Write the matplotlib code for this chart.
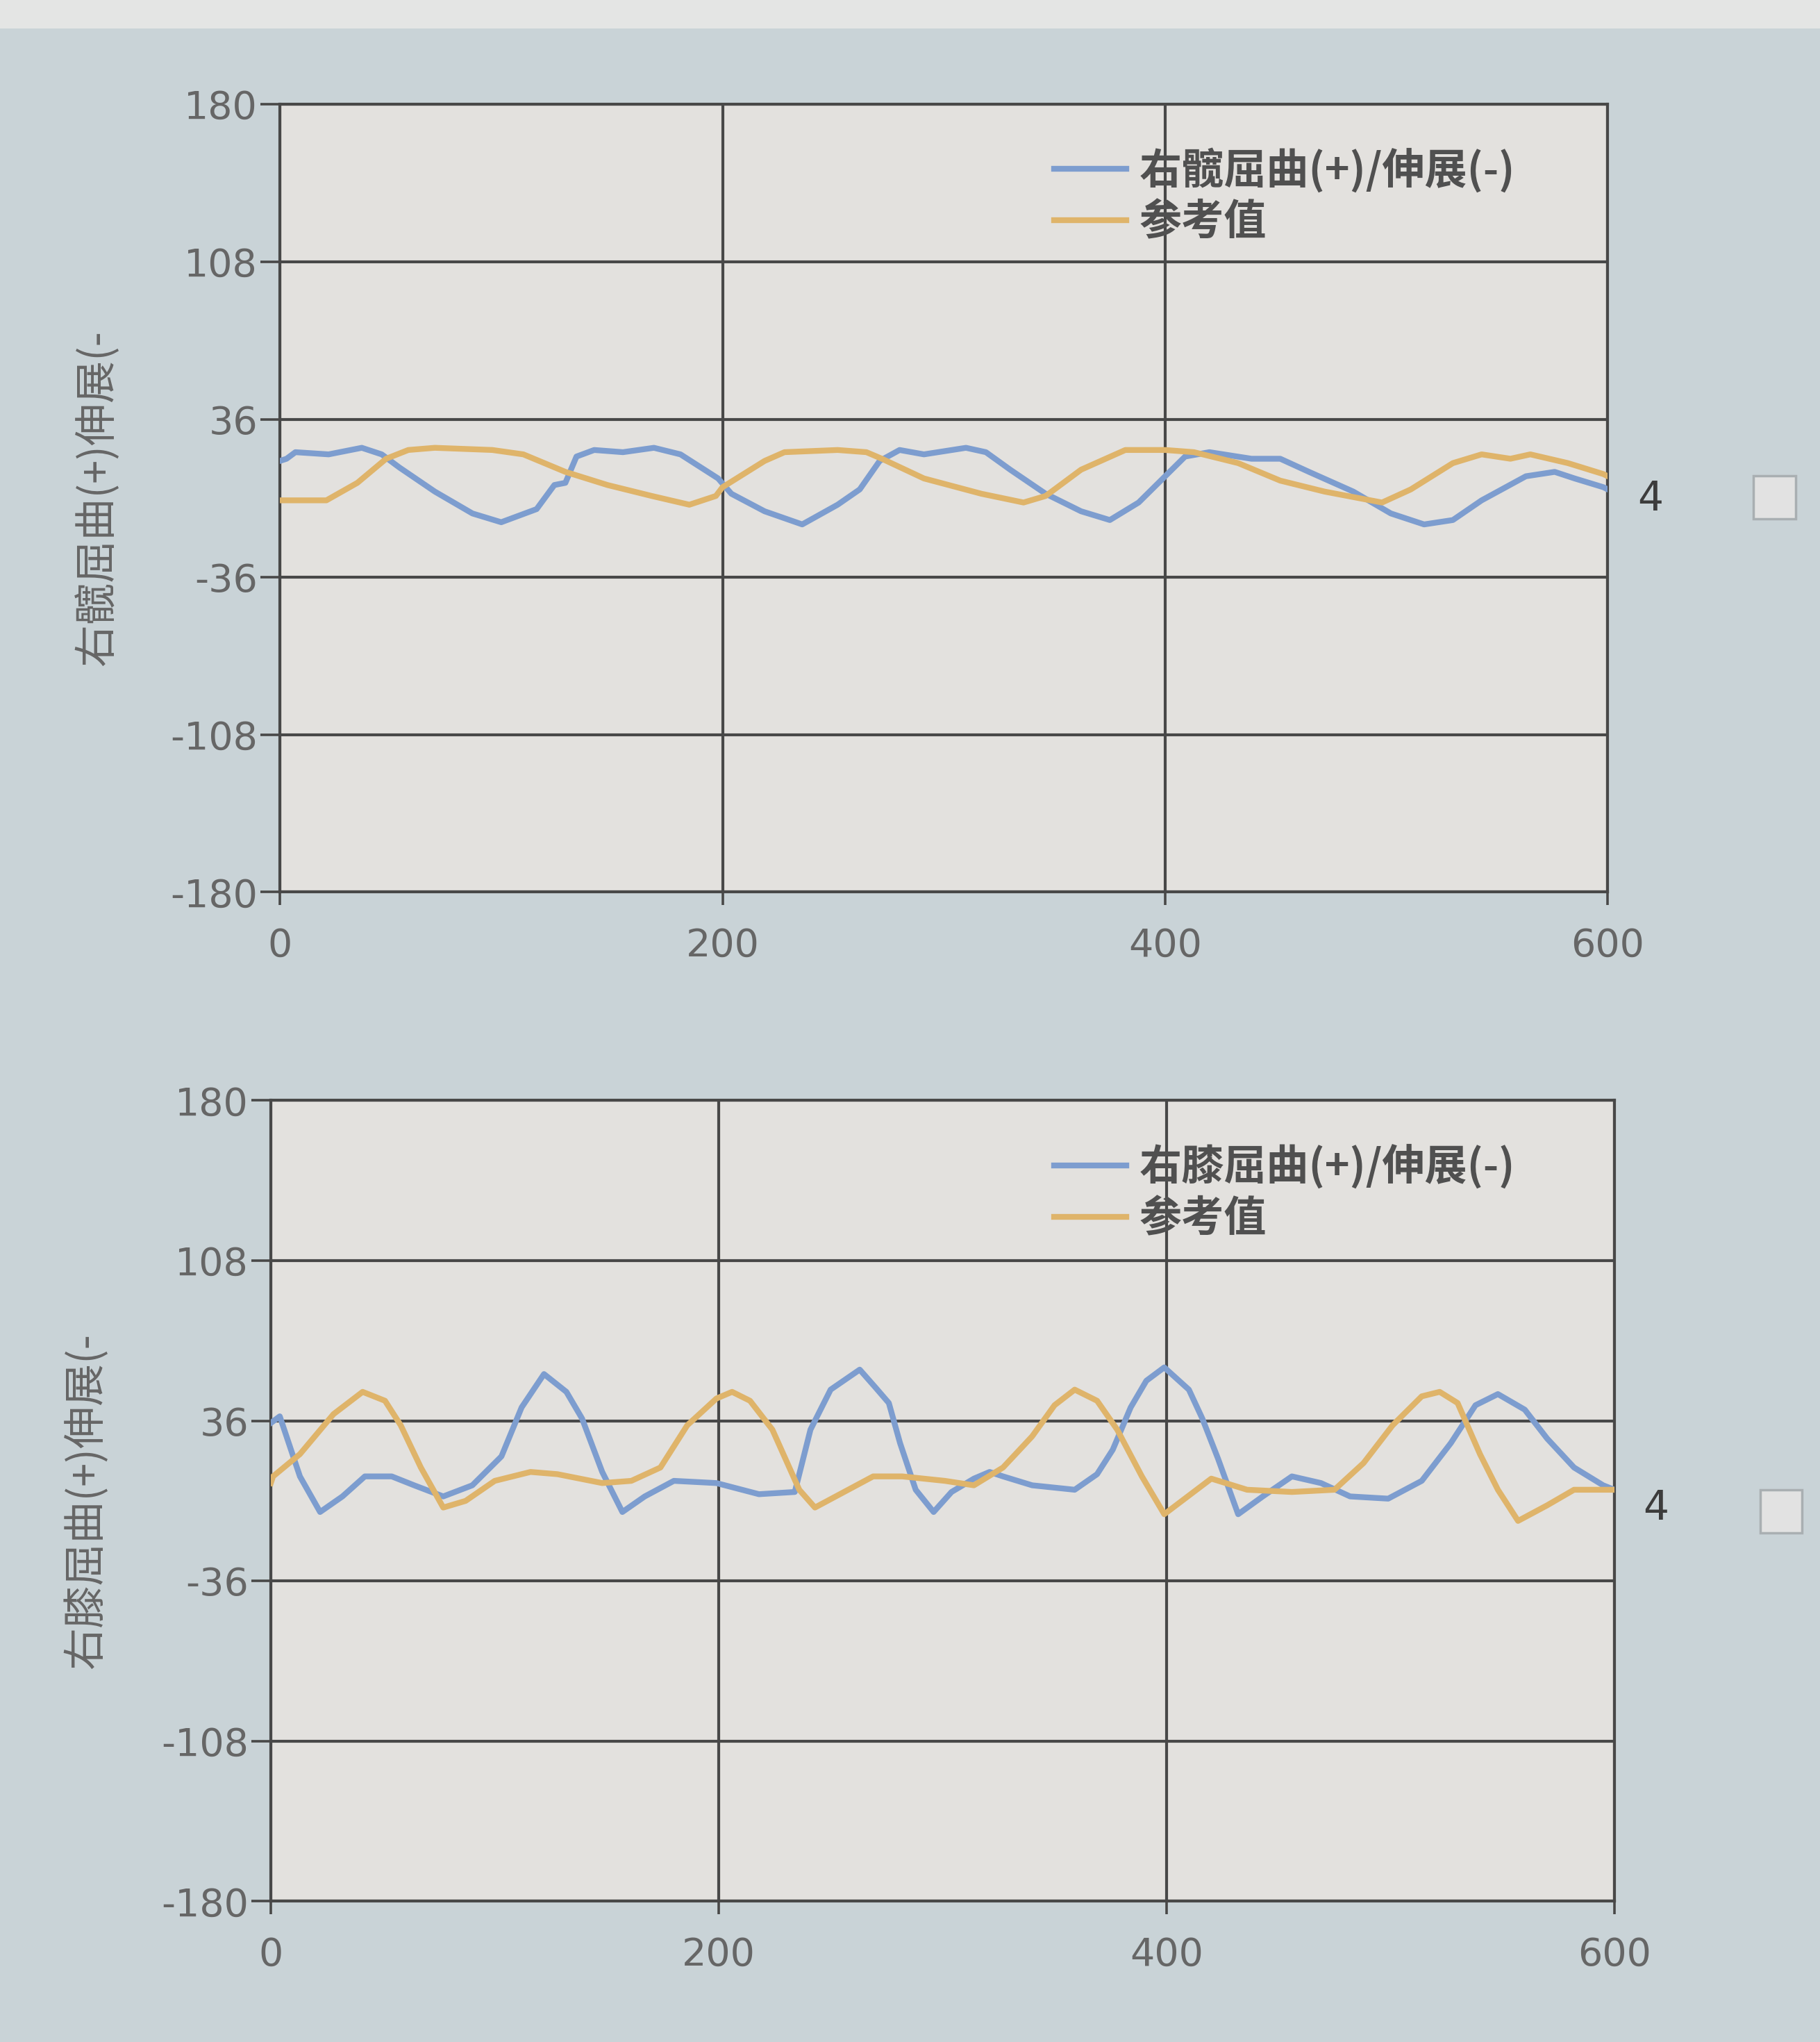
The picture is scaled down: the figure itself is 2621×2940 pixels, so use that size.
import matplotlib
matplotlib.use("Agg")
import matplotlib.pyplot as plt
from matplotlib.patches import Rectangle

plt.rcParams["font.family"] = ["Noto Sans CJK SC", "DejaVu Sans"]
plt.rcParams["axes.unicode_minus"] = False

hip_x = [0, 3, 7, 22, 37, 46, 54, 70, 87, 100, 116, 124, 129, 134, 142, 155, 169, 181,
         198, 204, 219, 236, 252, 262, 271, 280, 291, 310, 319, 330, 346, 362, 375, 388,
         398, 403, 409, 420, 439, 452, 465, 485, 502, 517, 530, 543, 563, 576, 585, 598, 600]
hip_y = [17, 18, 21, 20, 23, 20, 14, 3, -7, -11, -5, 6, 7, 19, 22, 21, 23, 20,
         9, 2, -6, -12, -3, 4, 17, 22, 20, 23, 21, 13, 2, -6, -10, -2,
         8, 13, 19, 21, 18, 18, 12, 3, -7, -12, -10, -1, 10, 12, 9, 5, 4]

hip_ref_x = [0, 3, 21, 35, 48, 58, 70, 96, 110, 129, 148, 168, 185, 197, 200, 219, 228,
             252, 265, 272, 291, 317, 336, 346, 362, 382, 400, 413, 433, 452, 472, 498,
             511, 530, 543, 556, 565, 582, 598, 600]
hip_ref_y = [-1, -1, -1, 7, 18, 22, 23, 22, 20, 12, 6, 1, -3, 1, 5, 17, 21,
             22, 21, 18, 9, 2, -2, 1, 13, 22, 22, 21, 16, 8, 3, -2,
             4, 16, 20, 18, 20, 16, 11, 10]

knee_x = [0, 4, 8, 13, 22, 32, 42, 54, 64, 77, 90, 103, 112, 122, 132, 139, 148, 157,
          167, 180, 199, 218, 234, 241, 250, 263, 270, 276, 281, 288, 296, 304, 314, 321,
          327, 340, 359, 369, 376, 384, 391, 399, 410, 416, 423, 432, 443, 456, 469, 482,
          499, 514, 527, 538, 548, 560, 570, 582, 595, 600]
knee_y = [35, 38, 26, 11, -5, 2, 11, 11, 7, 2, 7, 20, 42, 57, 49, 37, 13, -5,
          2, 9, 8, 3, 4, 32, 50, 59, 51, 44, 26, 5, -5, 4, 10, 13,
          11, 7, 5, 12, 23, 42, 54, 60, 50, 37, 19, -6, 2, 11, 8, 2,
          1, 9, 26, 43, 48, 41, 28, 15, 7, 5]

knee_ref_x = [0, 1, 13, 28, 41, 51, 58, 67, 77, 87, 100, 116, 128, 148, 161, 174, 186,
              199, 206, 214, 224, 236, 243, 256, 269, 282, 301, 314, 327, 340, 350, 359,
              369, 378, 389, 399, 420, 436, 456, 475, 488, 501, 514, 522, 530, 540, 548,
              557, 570, 582, 595, 600]
knee_ref_y = [8, 11, 21, 39, 49, 45, 34, 15, -3, 0, 9, 13, 12, 8, 9, 15, 34,
              46, 49, 45, 32, 5, -3, 4, 11, 11, 9, 7, 15, 29, 43, 50,
              45, 32, 11, -6, 10, 5, 4, 5, 17, 34, 47, 49, 44, 21, 5,
              -9, -2, 5, 5, 5]

y_ticks = [180, 108, 36, -36, -108, -180]
x_ticks = [0, 200, 400, 600]

BLUE = "#7d9dcf"
ORANGE = "#dfb46a"
GRID = "#484848"

fig = plt.figure(figsize=(26.21, 29.40), dpi=100, facecolor="#c9d3d7")
fig.patches.append(Rectangle((0, 0.986), 1, 0.014, transform=fig.transFigure,
                             facecolor="#e4e5e4", edgecolor="none", zorder=0))

panels = [
    dict(rect=[0.1538, 0.5631, 0.7296, 0.3859], x=hip_x, y=hip_y, rx=hip_ref_x, ry=hip_ref_y,
         name="右髋屈曲(+)/伸展(-)", ylabel="右髋屈曲(+)伸展(-", four=(0.907, 0.7557),
         box=(0.9635, 0.746)),
    dict(rect=[0.1488, 0.0689, 0.7382, 0.3922], x=knee_x, y=knee_y, rx=knee_ref_x, ry=knee_ref_y,
         name="右膝屈曲(+)/伸展(-)", ylabel="右膝屈曲(+)伸展(-", four=(0.910, 0.2615),
         box=(0.967, 0.2494)),
]

for p in panels:
    ax = fig.add_axes(p["rect"])
    ax.set_facecolor("#e3e1de")
    ax.plot(p["x"], p["y"], color=BLUE, lw=6, label=p["name"], zorder=3)
    ax.plot(p["rx"], p["ry"], color=ORANGE, lw=6, label="参考值", zorder=3)

    ax.set_xlim(0, 600)
    ax.set_ylim(-180, 180)
    ax.set_xticks(x_ticks)
    ax.set_yticks(y_ticks)
    ax.set_xticklabels([str(v) for v in x_ticks])
    ax.set_yticklabels([str(v) for v in y_ticks])
    ax.grid(True, color=GRID, lw=3, zorder=1)
    for s in ax.spines.values():
        s.set_color(GRID)
        s.set_linewidth(3)

    ax.tick_params(axis="y", length=20, width=2.6, color=GRID, pad=3,
                   labelsize=40, labelcolor="#666666")
    ax.tick_params(axis="x", length=14, width=2.6, color=GRID, pad=22,
                   labelsize=40, labelcolor="#666666")
    for lab in ax.get_xticklabels() + ax.get_yticklabels():
        lab.set_family("DejaVu Sans")

    ax.set_ylabel(p["ylabel"], fontsize=44, color="#666666", fontweight="medium")
    ax.yaxis.set_label_coords(-0.121, 0.5)

    leg = ax.legend(loc="upper left", bbox_to_anchor=(0.583, 0.945), frameon=False,
                    prop=dict(size=44, weight="bold"), handlelength=1.7,
                    handletextpad=0.3, labelspacing=0.2, borderpad=0, borderaxespad=0)
    for t in leg.get_texts():
        t.set_color("#505050")
    for h in leg.get_lines():
        h.set_linewidth(6)

    fig.text(p["four"][0], p["four"][1], "4", fontsize=42, color="#3c3c3c",
             ha="center", va="center", family="DejaVu Sans")
    fig.patches.append(Rectangle(p["box"], 0.023, 0.021, transform=fig.transFigure,
                                 facecolor="#e2e2e2", edgecolor="#a9afb2", lw=2.5))

fig.savefig("out.png", dpi=100, facecolor=fig.get_facecolor())
